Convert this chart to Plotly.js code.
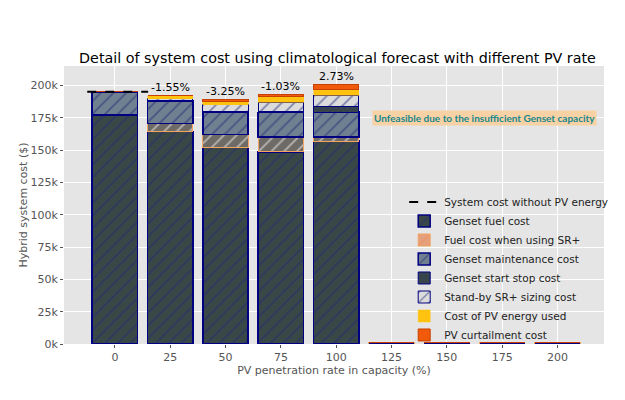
<!DOCTYPE html>
<html>
<head>
<meta charset="utf-8">
<script src="https://cdn.plot.ly/plotly-3.0.1.min.js"></script>
<style>html,body{margin:0;padding:0;background:#fff;}#chart{width:625px;height:400px;}</style>
</head>
<body>
<div id="chart"></div>
<script>
// ---- data (values in $) ----
const pvRate = [0, 25, 50, 75, 100, 125, 150, 175, 200];
const pvRateLabels = ['0', '25', '50', '75', '100', '125', '150', '175', '200'];
const gensetFuel    = [177000, 164500, 151800, 148500, 157000, 0, 0, 0, 0];
const fuelSRplus    = [0, 6000, 10400, 11500, 3000, 800, 800, 800, 800];
const gensetMaint   = [18000, 17500, 17400, 19000, 19400, 0, 0, 0, 0];
const startStop     = [0, 300, 500, 500, 3900, 0, 0, 0, 0];
const standbySizing = [0, 1300, 5000, 7500, 9000, 0, 0, 0, 0];
const pvEnergyUsed  = [0, 2500, 2500, 4600, 4600, 0, 0, 0, 0];
const pvCurtailment = [0, 0, 1300, 1300, 3600, 0, 0, 0, 0];
const costWithoutPV = 195000;
const baselineX = [-12.5, 15];
const pctLabels = ['', '-1.55%', '-3.25%', '-1.03%', '2.73%', '', '', '', ''];
const yTickVals = [0, 25000, 50000, 75000, 100000, 125000, 150000, 175000, 200000];
const yTickText = ['0k', '25k', '50k', '75k', '100k', '125k', '150k', '175k', '200k'];
const infeasibleText = 'Unfeasible due to the insufficient Genset capacity';
const infeasibleX = 167;
const infeasibleY = 175000;

const FONT = 'DejaVu Sans, sans-serif';
const NAVY = '#000080';
const HATCH = '#202a78';

function barTrace(name, y, fill, line, lw, pattern) {
  const t = {
    type: 'bar', name: name, x: pvRate, y: y,
    marker: { color: fill, line: { color: line, width: lw } }
  };
  if (pattern) t.marker.pattern = pattern;
  return t;
}

// thin (edge-only) SR+ bars are drawn in the edge colour
const srFill = fuelSRplus.map(v => v < 2000 ? '#e4a07c' : '#6e6a66');

const traces = [
  { type: 'scatter', mode: 'lines', name: 'System cost without PV energy',
    x: baselineX, y: baselineX.map(() => costWithoutPV),
    line: { color: '#000', dash: 'dash', width: 2 } },
  barTrace('Genset fuel cost', gensetFuel, '#3a4747', NAVY, 1.5,
    { shape: '/', fillmode: 'overlay', fgcolor: HATCH, size: 9, solidity: 0.2 }),
  barTrace('Fuel cost when using SR+', fuelSRplus, srFill, '#f4a460', 1,
    { shape: '/', fillmode: 'overlay', fgcolor: '#f08a58', size: 9, solidity: 0.2 }),
  barTrace('Genset maintenance cost', gensetMaint, '#708090', NAVY, 1.5,
    { shape: '/', fillmode: 'overlay', fgcolor: HATCH, size: 9, solidity: 0.2 }),
  barTrace('Genset start stop cost', startStop, '#3a4747', NAVY, 1,
    { shape: 'x', fillmode: 'overlay', fgcolor: HATCH, size: 4, solidity: 0.3 }),
  barTrace('Stand-by SR+ sizing cost', standbySizing, '#dcdcdc', NAVY, 1,
    { shape: '/', fillmode: 'overlay', fgcolor: HATCH, size: 9, solidity: 0.2 }),
  barTrace('Cost of PV energy used', pvEnergyUsed, '#ffc20e', '#ffc20e', 0.5),
  barTrace('PV curtailment cost', pvCurtailment, '#f05a0a', '#c84000', 1)
];

// totals for percentage labels
const totals = pvRate.map((_, i) => gensetFuel[i] + fuelSRplus[i] + gensetMaint[i] +
  startStop[i] + standbySizing[i] + pvEnergyUsed[i] + pvCurtailment[i]);

const annotations = [];
pvRate.forEach((x, i) => {
  if (pctLabels[i]) {
    annotations.push({ x: x, y: totals[i], text: pctLabels[i], showarrow: false,
      xanchor: 'center', yanchor: 'bottom', yshift: 0,
      font: { family: FONT, size: 11, color: '#000' } });
  }
});
annotations.push({ x: infeasibleX, y: infeasibleY, text: '<b>' + infeasibleText + '</b>',
  showarrow: false, xanchor: 'center', yanchor: 'middle', bgcolor: '#f8d2a4',
  borderpad: 1, font: { family: 'Lato, Open Sans, sans-serif', size: 10, color: '#17868c' } });

const layout = {
  width: 625, height: 400,
  margin: { l: 64, r: 13, t: 66, b: 56 },
  paper_bgcolor: '#ffffff', plot_bgcolor: '#e5e5e5',
  barmode: 'stack', bargap: 0.18,
  showlegend: true,
  title: { text: 'Detail of system cost using climatological forecast with different PV rate',
    font: { family: FONT, size: 14.3, color: '#000' }, x: 0.54, xanchor: 'center', y: 0.855, yanchor: 'middle' },
  xaxis: {
    range: [-23, 221], tickvals: pvRate, ticktext: pvRateLabels,
    showgrid: true, gridcolor: '#ffffff', gridwidth: 1, zeroline: false,
    ticks: 'outside', ticklen: 3, tickcolor: '#555',
    tickfont: { family: FONT, size: 11, color: '#555' },
    title: { text: 'PV penetration rate in capacity (%)', standoff: 0,
      font: { family: FONT, size: 11, color: '#555' } }
  },
  yaxis: {
    range: [0, 215000], tickvals: yTickVals, ticktext: yTickText,
    showgrid: true, gridcolor: '#ffffff', gridwidth: 1, zeroline: false,
    ticks: 'outside', ticklen: 3, tickcolor: '#555',
    tickfont: { family: FONT, size: 11, color: '#555' },
    title: { text: 'Hybrid system cost ($)', standoff: 0,
      font: { family: FONT, size: 11, color: '#555' } }
  },
  legend: {
    x: 0.63, y: 0.563, xanchor: 'left', yanchor: 'top',
    bgcolor: 'rgba(0,0,0,0)', traceorder: 'normal',
    font: { family: FONT, size: 10.5, color: '#222' }
  },
  annotations: annotations
};

Plotly.newPlot('chart', traces, layout, { displayModeBar: false, staticPlot: true });
</script>
</body>
</html>
